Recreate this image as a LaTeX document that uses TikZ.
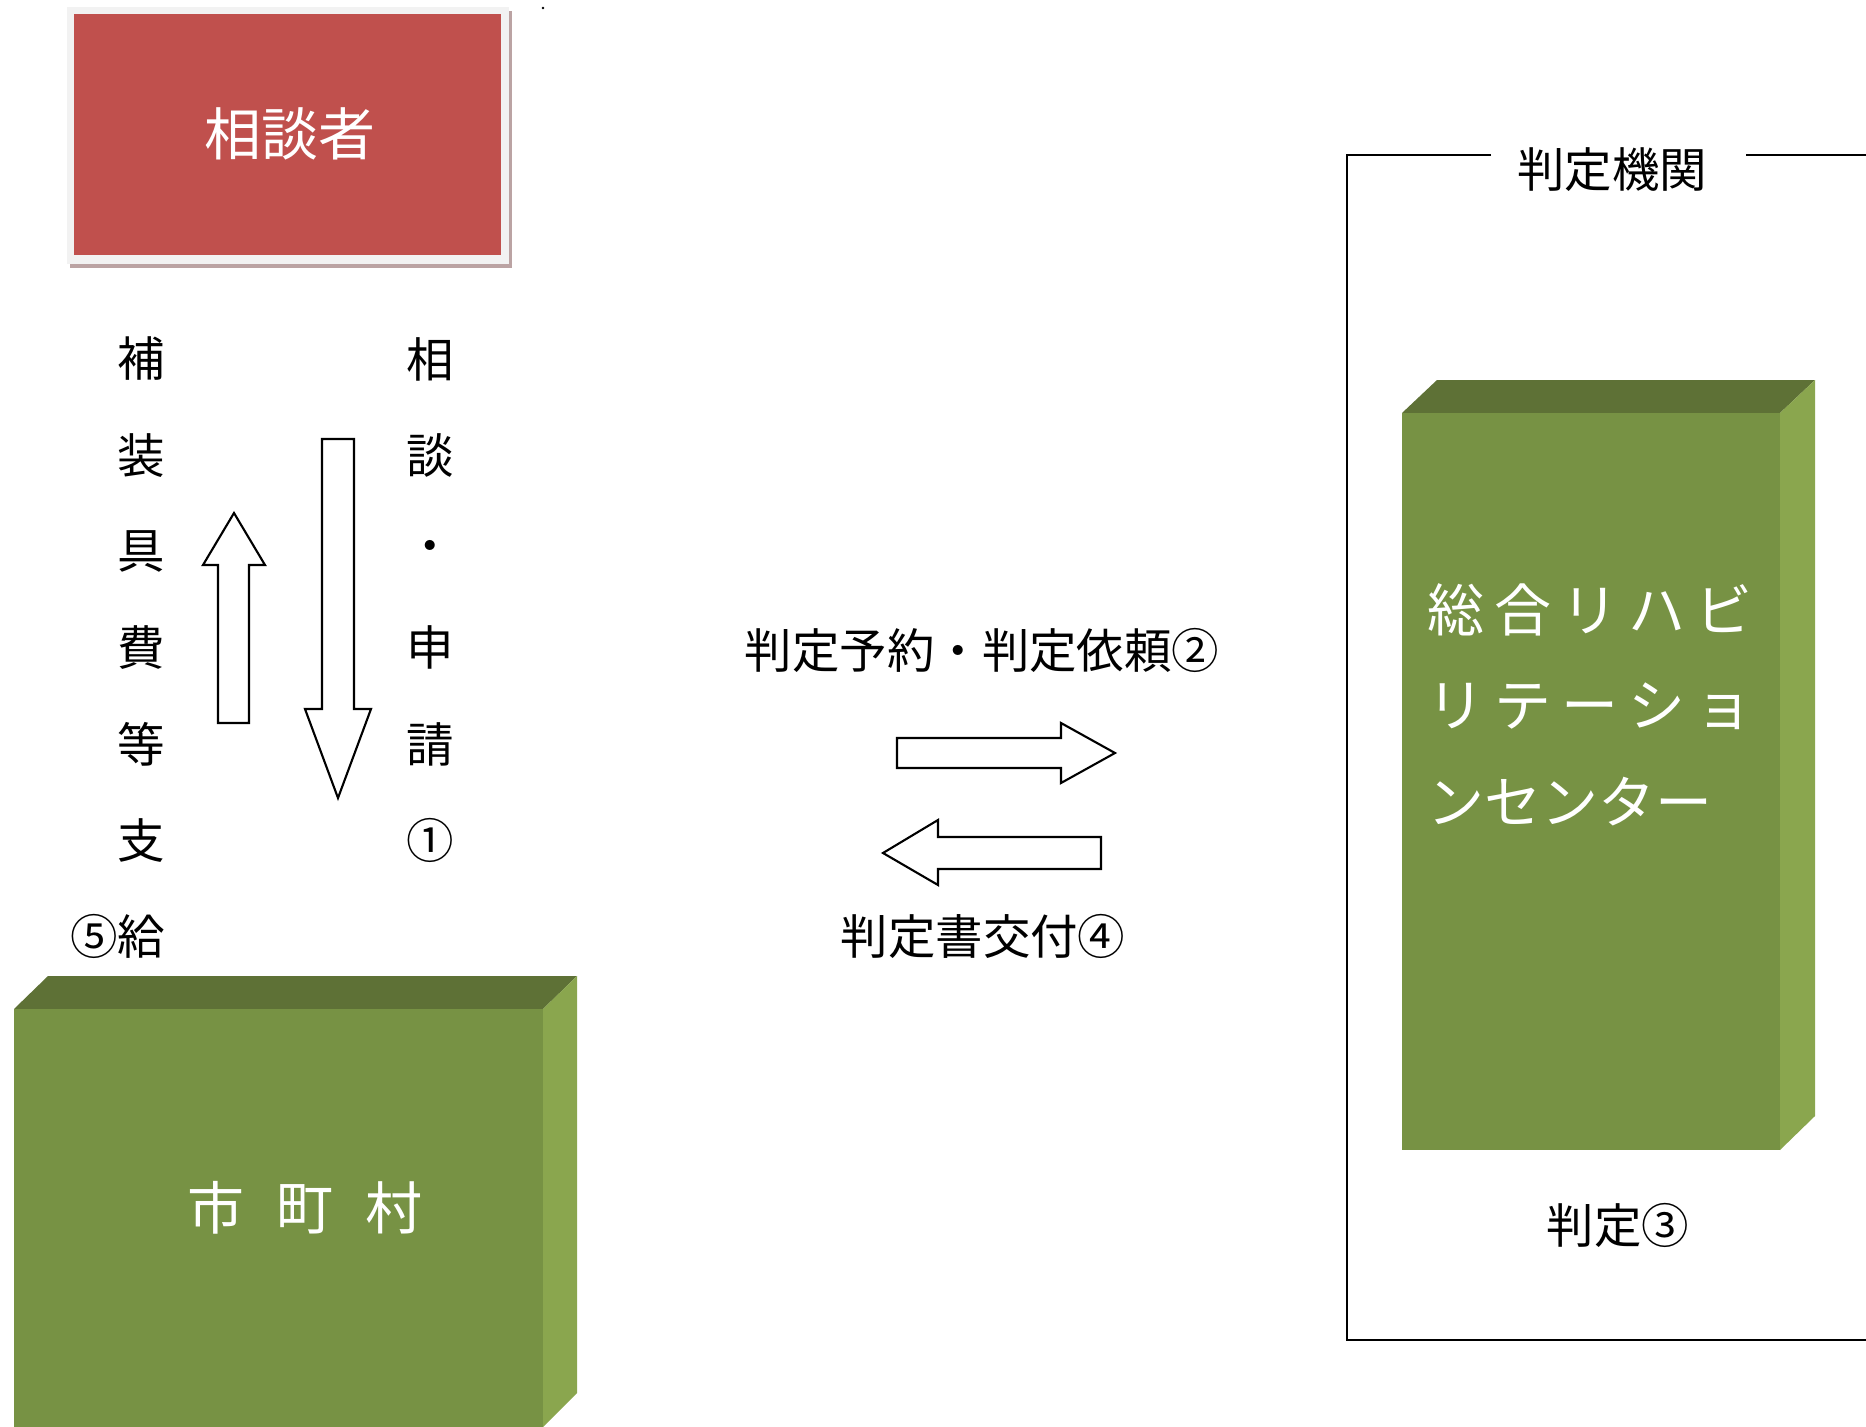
\documentclass[tikz,border=0pt]{standalone}
\usepackage{fontspec}
\setmainfont{Noto Sans CJK JP}
\definecolor{SodanRed}{HTML}{C0504D}
\definecolor{FrameGray}{HTML}{F2F2F2}
\definecolor{ShadowRed}{HTML}{BBA3A3}
\definecolor{GreenFront}{HTML}{779244}
\definecolor{GreenTop}{HTML}{5E7136}
\definecolor{GreenSide}{HTML}{8AA64E}
\newcommand{\ls}{\hspace{0.1cm}}

\begin{document}
\begin{tikzpicture}[x=0.01cm,y=-0.01cm,
    LabelStyle/.style={inner sep=0pt,font=\fontsize{13.5}{16}\selectfont},
    BoxText/.style={inner sep=0pt,text=white,font=\fontsize{16.2}{19}\selectfont},
    BlockArrow/.style={draw=black,line width=0.6pt,fill=white,line join=miter}]
            \useasboundingbox (0,0) rectangle (1866,1427);
            \clip (0,0) rectangle (1866,1427);

            \fill[ShadowRed] (70,11) rectangle (512,268);
            \fill[FrameGray] (67,7) rectangle (509,264);
            \fill[SodanRed] (74,14) rectangle (501,255);
            \node[BoxText] (sodan) at (290,134) {相談者};
            \fill (543,8) circle (0.4pt);

            \foreach \ch [count=\i from 0] in {補,装,具,費,等,支,⑤給}
              \node[LabelStyle,anchor=east] (kyufu\i) at (166,359+96.3*\i) {\ch};
            \foreach \ch [count=\i from 0] in {相,談,・,申,請,①}
              \node[LabelStyle] (shinsei\i) at (430,359+96.3*\i) {\ch};

            \draw[BlockArrow] (218,723) -- (218,565) -- (203,565) -- (234,513)
              -- (265,565) -- (249,565) -- (249,723) -- cycle;
            \draw[BlockArrow] (322,439) -- (322,709) -- (305,709) -- (338,798)
              -- (371,709) -- (354,709) -- (354,439) -- cycle;

            \node[LabelStyle] (irai) at (982,650) {判定予約・判定依頼②};
            \draw[BlockArrow] (897,738) -- (1061,738) -- (1061,723) -- (1115,753)
              -- (1061,783) -- (1061,768) -- (897,768) -- cycle;
            \draw[BlockArrow] (1101,837) -- (938,837) -- (938,820) -- (883,853)
              -- (938,885) -- (938,869) -- (1101,869) -- cycle;
            \node[LabelStyle] (kofu) at (983,936) {判定書交付④};

            \fill[GreenTop] (14,1009) -- (48,976) -- (577,976) -- (543,1009) -- cycle;
            \fill[GreenSide] (543,1009) -- (577,976) -- (577,1393) -- (543,1427) -- cycle;
            \fill[GreenFront] (14,1009) rectangle (543,1430);
            \node[BoxText] (shichoson) at (305,1208) {市\hspace{0.32cm}町\hspace{0.32cm}村};

            \draw[line width=0.6pt] (1491,155) -- (1347,155) -- (1347,1340) -- (1870,1340);
            \draw[line width=0.6pt] (1746,155) -- (1870,155);
            \node[LabelStyle] (kikan) at (1612,170) {判定機関};

            \fill[GreenTop] (1402,413) -- (1437,380) -- (1815,380) -- (1780,413) -- cycle;
            \fill[GreenSide] (1780,413) -- (1815,380) -- (1815,1116) -- (1780,1150) -- cycle;
            \fill[GreenFront] (1402,413) rectangle (1780,1150);
            \node[BoxText,anchor=west] (center1) at (1427,610) {総\ls 合\ls リ\ls ハ\ls ビ};
            \node[BoxText,anchor=west] (center2) at (1427,706) {リ\ls テ\ls ー\ls シ\ls ョ};
            \node[BoxText,anchor=west] (center3) at (1427,802) {ンセンター};
            \node[LabelStyle] (hantei) at (1618,1225) {判定③};
          \end{tikzpicture}
\end{document}
